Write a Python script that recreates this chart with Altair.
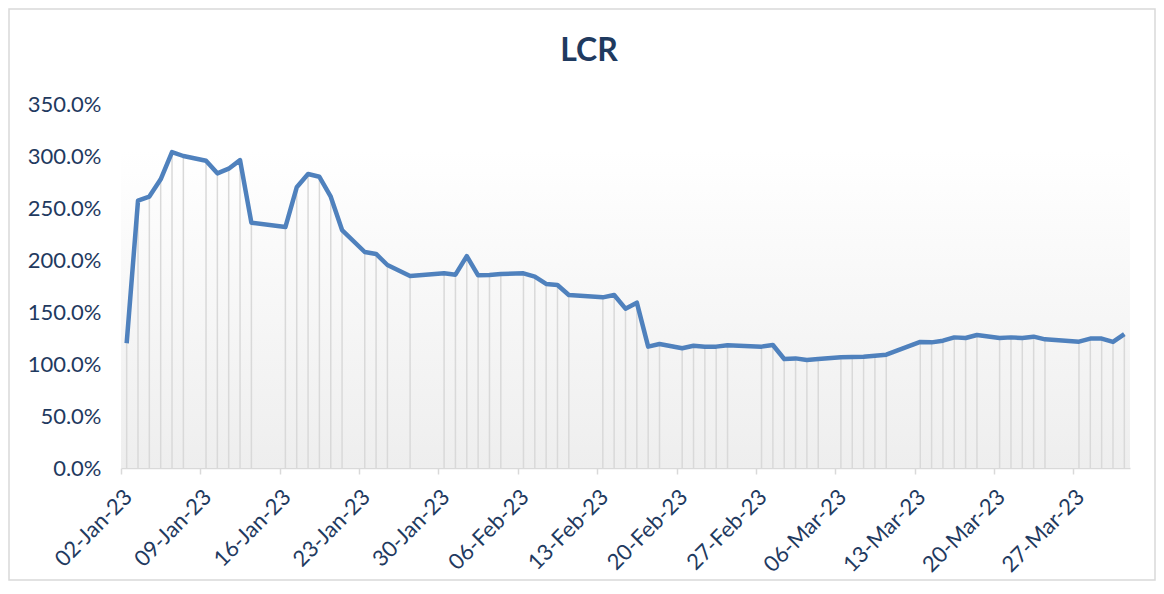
import altair as alt
import pandas as pd

# ---- data ----
dates = [
    "02-Jan-23", "03-Jan-23", "04-Jan-23", "05-Jan-23", "06-Jan-23", "07-Jan-23",
    "09-Jan-23", "10-Jan-23", "11-Jan-23", "12-Jan-23", "13-Jan-23",
    "16-Jan-23", "17-Jan-23", "18-Jan-23", "19-Jan-23", "20-Jan-23", "21-Jan-23",
    "23-Jan-23", "24-Jan-23", "25-Jan-23", "27-Jan-23", "30-Jan-23", "31-Jan-23",
    "01-Feb-23", "02-Feb-23", "03-Feb-23", "04-Feb-23",
    "06-Feb-23", "07-Feb-23", "08-Feb-23", "09-Feb-23", "10-Feb-23",
    "13-Feb-23", "14-Feb-23", "15-Feb-23", "16-Feb-23", "17-Feb-23", "18-Feb-23",
    "20-Feb-23", "21-Feb-23", "22-Feb-23", "23-Feb-23", "24-Feb-23",
    "27-Feb-23", "28-Feb-23",
    "01-Mar-23", "02-Mar-23", "03-Mar-23", "04-Mar-23",
    "06-Mar-23", "07-Mar-23", "08-Mar-23", "09-Mar-23", "10-Mar-23",
    "13-Mar-23", "14-Mar-23", "15-Mar-23", "16-Mar-23", "17-Mar-23", "18-Mar-23",
    "20-Mar-23", "21-Mar-23", "22-Mar-23", "23-Mar-23", "24-Mar-23",
    "27-Mar-23", "28-Mar-23", "29-Mar-23", "30-Mar-23", "31-Mar-23",
]
lcr_pct = [
    120.0, 257.0, 261.0, 277.6, 303.8, 300.0,
    295.5, 283.3, 287.8, 296.0, 235.9,
    231.7, 269.9, 282.7, 280.0, 260.9, 228.8,
    207.7, 205.8, 195.2, 184.6, 187.2, 185.9,
    203.8, 185.3, 185.5, 186.5,
    187.2, 184.0, 177.0, 176.0, 166.3,
    164.1, 166.3, 153.2, 159.0, 116.7, 119.2,
    115.1, 117.5, 116.7, 116.7, 118.0,
    116.7, 118.3,
    104.8, 105.4, 103.8, 104.8,
    106.4, 106.7, 107.0, 108.0, 109.0,
    121.2, 120.8, 122.4, 125.6, 125.0, 127.9,
    125.0, 125.6, 125.0, 126.3, 123.7,
    121.5, 124.4, 124.4, 121.2, 128.8,
]
tick_labels = [
    "02-Jan-23", "09-Jan-23", "16-Jan-23", "23-Jan-23", "30-Jan-23",
    "06-Feb-23", "13-Feb-23", "20-Feb-23", "27-Feb-23",
    "06-Mar-23", "13-Mar-23", "20-Mar-23", "27-Mar-23",
]
y_ticks = [0, 0.5, 1.0, 1.5, 2.0, 2.5, 3.0, 3.5]
title_text = "LCR"

df = pd.DataFrame({
    "date": pd.to_datetime(dates, format="%d-%b-%y"),
    "lcr": [v / 100 for v in lcr_pct],
})
# Excel date axis: each point sits in the middle of its day
df["x"] = df["date"] + pd.Timedelta(hours=12)

tick_dt = [pd.to_datetime(t, format="%d-%b-%y") for t in tick_labels]
tick_values = [alt.DateTime(year=t.year, month=t.month, date=t.day) for t in tick_dt]

NAVY = "#1F3A5F"
W, H = 1009, 364

x_enc = alt.X(
    "x:T",
    title=None,
    scale=alt.Scale(
        domain=[alt.DateTime(year=2023, month=1, date=2),
                alt.DateTime(year=2023, month=4, date=1)],
        nice=False,
    ),
    axis=alt.Axis(values=tick_values, format="%d-%b-%y", labelAngle=-45,
                  grid=False, labelPadding=12, labelOverlap=False),
)
y_enc = alt.Y(
    "lcr:Q",
    title=None,
    scale=alt.Scale(domain=[0, 3.5], nice=False),
    axis=alt.Axis(values=y_ticks, format=".1%", grid=False, domain=False,
                  ticks=False, labelPadding=20),
)

base = alt.Chart(df)
one = pd.DataFrame({"k": [0]})

gradient = alt.LinearGradient(
    gradient="linear",
    stops=[alt.GradientStop(color="#ffffff", offset=0),
           alt.GradientStop(color="#eeeeee", offset=1)],
    x1=0, x2=0, y1=0, y2=1,
)
bg = alt.Chart(one).mark_rect(fill=gradient).encode(
    x=alt.value(0), x2=alt.value(W), y=alt.value(47), y2=alt.value(H)
)
border = alt.Chart(one).mark_rect(
    fill="transparent", stroke="#d9d9d9", strokeWidth=1.5, clip=False
).encode(
    x=alt.value(-112), x2=alt.value(W + 25), y=alt.value(-95), y2=alt.value(H + 112)
)
title = alt.Chart(one).mark_text(
    font="Lato", fontSize=32, fontWeight="bold", color=NAVY,
    align="center", baseline="alphabetic", clip=False,
).encode(x=alt.value(468), y=alt.value(-43), text=alt.value(title_text))

drops = base.mark_rule(color="#d9d9d9", strokeWidth=1.5).encode(
    x=x_enc, y=y_enc, y2=alt.datum(0)
)
line = base.mark_line(color="#4F81BD", strokeWidth=4.5, strokeJoin="round").encode(
    x=x_enc, y=y_enc
)

chart = alt.layer(bg, border, title, drops, line).properties(
    width=W,
    height=H,
    autosize="none",
    padding={"left": 113, "top": 96, "right": 26, "bottom": 114},
).configure_view(stroke=None).configure_axis(
    labelFont="Lato", labelFontSize=22, labelColor=NAVY,
    domainColor="#d9d9d9", domainWidth=1.5, tickColor="#d9d9d9", tickSize=6,
    tickWidth=1.5,
)

chart.save("out.html", embed_options={"renderer": "svg", "actions": False})
